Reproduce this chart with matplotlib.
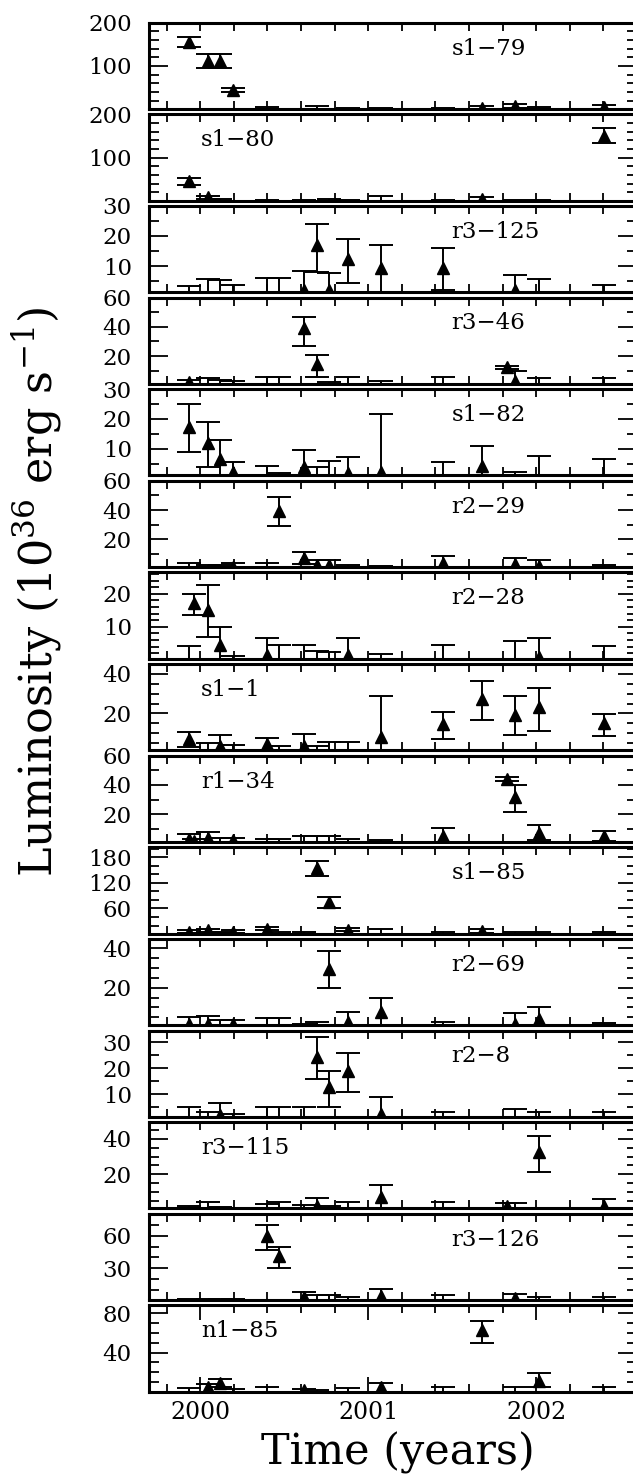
import matplotlib
matplotlib.use("Agg")
import matplotlib.pyplot as plt
from matplotlib.ticker import MultipleLocator, FormatStrFormatter

plt.rcParams['font.family'] = 'DejaVu Serif'
plt.rcParams['mathtext.fontset'] = 'dejavuserif'

# observation epochs (decimal years)
epochs = [1999.931, 1999.965, 2000.045, 2000.117, 2000.195, 2000.395, 2000.467,
          2000.616, 2000.694, 2000.766, 2000.879, 2001.075, 2001.446, 2001.679,
          2001.827, 2001.874, 2002.019, 2002.405]

# detections: (epoch index, L, lower, upper); limits: (epoch index, upper value)
s1_79_det = [(0, 155, 143, 167), (2, 112, 96, 128), (3, 112, 96, 128), (4, 44, 39, 49),
             (13, 4, 0, 8), (15, 8, 4, 12), (17, 5, 0, 9)]
s1_79_ul = [(5, 5), (8, 7), (10, 3), (11, 3), (12, 3), (16, 5)]

s1_80_det = [(0, 45, 37, 53), (2, 8, 4, 12), (13, 5, 0, 9), (17, 151, 134, 168)]
s1_80_ul = [(3, 4), (5, 3), (7, 3), (9, 5), (10, 3), (11, 12), (12, 3), (15, 3), (16, 2)]

r3_125_det = [(7, 2.2, 0, 8.2), (8, 16.9, 8, 24.1), (9, 2.2, 0, 7.8), (10, 12.4, 4.4, 19.1),
              (11, 9.3, 0, 17.1), (12, 9.3, 2.2, 16.1), (15, 1.9, 0, 6.9)]
r3_125_ul = [(0, 3.3), (2, 5.6), (3, 5.2), (4, 3.6), (5, 6.1), (6, 6.1), (16, 5.6), (17, 3.8)]

r3_46_det = [(0, 2, 0.5, 3.5), (7, 38.9, 26.9, 46.9), (8, 14.7, 6, 20.5), (14, 12.4, 11.4, 13.4),
             (15, 3.2, 0, 10)]
r3_46_ul = [(2, 4.8), (3, 3.7), (4, 3), (5, 5.5), (6, 5.5), (9, 2.5), (10, 5.5), (11, 3.2),
            (12, 5.5), (16, 4.8), (17, 4.8)]

s1_82_det = [(0, 17.4, 8.9, 25.1), (2, 12, 3.7, 19.1), (3, 6.4, 0, 12.9), (4, 2.2, 0, 5.6),
             (7, 3.7, 0, 9.6), (10, 1.7, 0, 7.1), (11, 2.2, 0, 21.7), (13, 4.2, 0, 10.9)]
s1_82_ul = [(5, 4.2), (6, 1.9), (8, 3.7), (9, 6), (12, 5.6), (15, 2.2), (16, 7.5), (17, 6.7)]

r2_29_det = [(4, 1.4, 0, 3.7), (6, 39.5, 29.1, 48.7), (7, 7.2, 3, 11.3), (8, 2.5, 0, 6),
             (9, 2.5, 0, 6), (12, 3.7, 0, 8.3), (15, 3, 0, 7.2), (16, 2, 0, 6)]
r2_29_ul = [(0, 3.7), (2, 2.5), (3, 2.5), (5, 3.7), (10, 2.5), (11, 1.8), (17, 2.5)]

r2_28_det = [(1, 17.1, 13.6, 19.9), (2, 15, 7, 22.6), (3, 4.6, 0, 10), (5, 1.5, 0, 6.7),
             (10, 1.5, 0, 6.7), (16, 0.7, 0, 6.7)]
r2_28_ul = [(0, 4.1), (4, 1.1), (6, 4.6), (7, 4.6), (8, 2.5), (9, 2.2), (11, 1.8), (12, 4.6),
            (15, 5.6), (17, 4.3)]

s1_1_det = [(0, 7, 3, 10.7), (3, 3.6, 0, 9), (5, 4.4, 1, 7.8), (7, 3.6, 0, 9.5), (11, 8.3, 0, 29),
            (12, 14.6, 7.3, 20.8), (13, 27.3, 16.8, 36.1), (15, 19.3, 9, 29),
            (16, 23, 11.2, 32.9), (17, 15.4, 8.6, 19.7)]
s1_1_ul = [(2, 5.3), (4, 3.9), (6, 3.6), (8, 3.6), (9, 5.8), (10, 5.8)]

r1_34_det = [(0, 2.8, 0, 6.2), (1, 1.6, 0, 3), (2, 3.9, 0, 8), (4, 2, 0.6, 3.4), (12, 5, 0, 10.3),
             (14, 44.1, 43, 45.2), (15, 31.5, 21.8, 40.2), (16, 7.4, 2.2, 12.6), (17, 5, 1.5, 8.5)]
r1_34_ul = [(3, 3.9), (5, 2.8), (6, 2.8), (7, 5), (8, 5), (9, 5), (10, 2.8), (11, 2)]

s1_85_det = [(0, 5.4, 2, 9), (2, 9.3, 6, 13), (4, 5.4, 2, 9), (5, 13.2, 9, 17), (8, 155, 136, 170),
             (9, 75, 60, 87), (10, 10.9, 7, 15), (13, 7, 3, 11)]
s1_85_ul = [(3, 5), (6, 5), (7, 5), (11, 13.2), (12, 5), (15, 5), (16, 5), (17, 5)]

r2_69_det = [(0, 1.4, 0, 5.2), (2, 1.4, 0, 5.6), (4, 1.4, 0, 3.5), (9, 29.6, 20, 38.6),
             (10, 2.6, 0, 7.8), (11, 7.8, 0, 14.8), (15, 1.7, 0, 7.3), (16, 4.3, 0, 10)]
r2_69_ul = [(3, 3.8), (5, 4.5), (6, 4.5), (7, 1.7), (8, 2.4), (12, 2.4), (17, 2.1)]

r2_8_det = [(3, 1.8, 0, 6.4), (8, 24.4, 15.7, 32), (9, 12.7, 5.1, 19), (10, 18.8, 10.7, 26),
            (11, 2.2, 0, 8.8)]
r2_8_ul = [(0, 4.8), (2, 3.1), (4, 2.2), (5, 5.1), (6, 5.1), (7, 5.1), (12, 3.1), (15, 4.4),
           (16, 3.1), (17, 3.1)]

r3_115_det = [(8, 1.9, 0, 6.3), (11, 7, 0, 13.9), (14, 1.9, 0, 3.8), (16, 32.4, 21.5, 41.9),
              (17, 1.9, 0, 5.7)]
r3_115_ul = [(0, 1.9), (2, 4.4), (3, 1.3), (5, 2.9), (6, 4.4), (7, 2.5), (9, 1.9), (10, 4.4),
             (12, 4.4), (15, 3.8)]

r3_126_det = [(5, 60, 46.8, 70), (6, 41.6, 30.3, 49.8), (7, 3.4, 0, 8), (11, 4.9, 0, 11),
              (15, 2.8, 0, 7)]
r3_126_ul = [(0, 1.8), (2, 1.8), (3, 1.8), (4, 1.8), (8, 5.8), (9, 5.8), (10, 3.4), (12, 5.8),
             (16, 3.4), (17, 3.4)]

n1_85_det = [(2, 4.7, 0, 8), (3, 9.4, 5.4, 12.8), (7, 2, 0, 3), (11, 4.7, 0, 9.4),
             (13, 63.2, 49.7, 72.6), (16, 11.4, 5.4, 18.8)]
n1_85_ul = [(0, 3.7), (4, 3), (5, 4.7), (8, 2), (10, 3.7), (12, 5.4), (15, 5.4), (17, 4.7)]

names = ['s1\u221279', 's1\u221280', 'r3\u2212125', 'r3\u221246', 's1\u221282', 'r2\u221229',
         'r2\u221228', 's1\u22121', 'r1\u221234', 's1\u221285', 'r2\u221269', 'r2\u22128',
         'r3\u2212115', 'r3\u2212126', 'n1\u221285']
detections = [s1_79_det, s1_80_det, r3_125_det, r3_46_det, s1_82_det, r2_29_det, r2_28_det,
              s1_1_det, r1_34_det, s1_85_det, r2_69_det, r2_8_det, r3_115_det, r3_126_det,
              n1_85_det]
limits = [s1_79_ul, s1_80_ul, r3_125_ul, r3_46_ul, s1_82_ul, r2_29_ul, r2_28_ul, s1_1_ul,
          r1_34_ul, s1_85_ul, r2_69_ul, r2_8_ul, r3_115_ul, r3_126_ul, n1_85_ul]
ylims = [(0.8, 200), (0.8, 200), (1.3, 30), (1, 60), (1, 30), (1, 60), (0.3, 26.5), (1.4, 44.9),
         (1, 60), (1.4, 203), (1, 44.8), (1.2, 34.5), (0.6, 49.5), (1, 80), (0.3, 88)]
major_step = [100, 100, 10, 20, 10, 20, 10, 20, 20, 60, 20, 10, 20, 30, 40]
minor_step = [20, 20, 5, 10, 5, 10, 2, 5, 10, 20, 5, 5, 5, 10, 10]
label_left = [False, True, False, False, False, False, False, True, True, False, False,
              False, True, False, True]

fig, axes = plt.subplots(15, 1, figsize=(6.33, 14.81), dpi=100, sharex=True)
fig.subplots_adjust(left=0.2346, right=1.0063, top=0.9847, bottom=0.0603, hspace=0.0614)

for i, ax in enumerate(axes):
    det = detections[i]
    t = [epochs[d[0]] for d in det]
    y = [d[1] for d in det]
    lo = [d[1] - d[2] for d in det]
    hi = [d[3] - d[1] for d in det]
    ax.errorbar(t, y, yerr=[lo, hi], fmt='^', color='black', ms=8, lw=1.4,
                capsize=8.5, capthick=1.4, zorder=3)

    # upper limits: bar from zero up to the limit
    ul = limits[i]
    tu = [epochs[u[0]] for u in ul]
    yu = [u[1] for u in ul]
    ax.errorbar(tu, [0] * len(ul), yerr=[[0] * len(ul), yu], fmt='none', ecolor='black',
                lw=1.4, capsize=8.5, capthick=1.4, zorder=2)

    ax.set_xlim(1999.692, 2002.6)
    ax.set_ylim(*ylims[i])
    ax.yaxis.set_major_locator(MultipleLocator(major_step[i]))
    ax.yaxis.set_minor_locator(MultipleLocator(minor_step[i]))
    ax.yaxis.set_major_formatter(FormatStrFormatter('%d'))
    ax.xaxis.set_major_locator(MultipleLocator(1))
    ax.xaxis.set_minor_locator(MultipleLocator(0.2))

    ax.tick_params(which='both', direction='in', top=True, right=True, width=1.3)
    ax.tick_params(axis='y', which='major', length=13.5, labelsize=16.5, pad=12)
    ax.tick_params(axis='y', which='minor', length=7)
    ax.tick_params(axis='x', which='both', length=5.5, labelsize=17, pad=7)
    for sp in ax.spines.values():
        sp.set_linewidth(2.2)

    xpos = 0.107 if label_left[i] else 0.62
    ax.text(xpos, 0.70, names[i], transform=ax.transAxes, fontsize=16.5,
            ha='left', va='center')

axes[-1].tick_params(axis='x', which='major', length=11)
axes[-1].xaxis.set_major_formatter(FormatStrFormatter('%d'))

fig.text(398 / 633, 1 - 1465 / 1481, 'Time (years)', fontsize=31, ha='center', va='baseline')
fig.text(37 / 633, 1 - 592 / 1481, r'Luminosity (10$^{36}$ erg s$^{-1}$)', fontsize=32,
         rotation=90, ha='center', va='center')

fig.savefig('out.png', dpi=100)
